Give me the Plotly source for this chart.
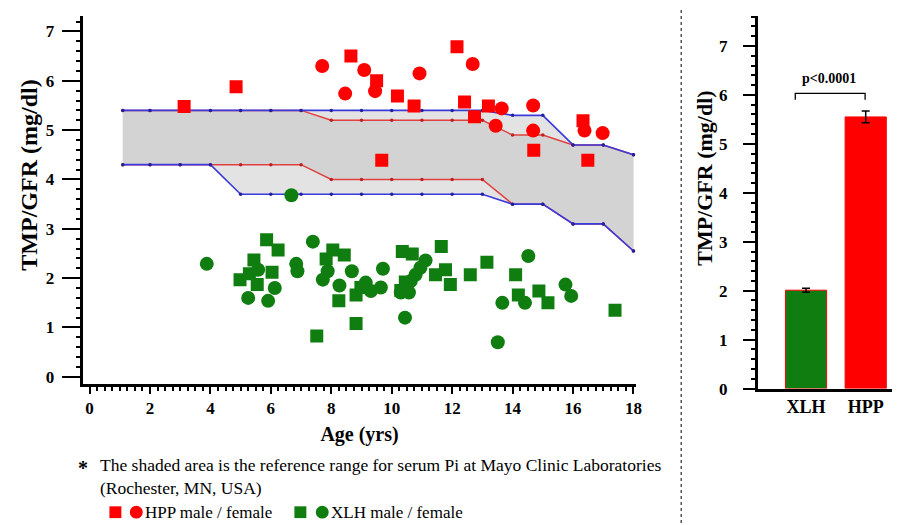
import plotly.graph_objects as go

# ---------------- data ----------------
# reference range (male = blue, female = red)
band_age = [1.1, 2, 3, 4, 5, 6, 7, 8, 9, 10, 11, 12, 13, 14, 15, 16, 17, 18]
male_upper = [5.4, 5.4, 5.4, 5.4, 5.4, 5.4, 5.4, 5.4, 5.4, 5.4, 5.4, 5.4, 5.4, 5.3, 5.3, 4.7, 4.7, 4.5]
male_lower = [4.3, 4.3, 4.3, 4.3, 3.7, 3.7, 3.7, 3.7, 3.7, 3.7, 3.7, 3.7, 3.7, 3.5, 3.5, 3.1, 3.1, 2.55]
female_upper = [5.4, 5.4, 5.4, 5.4, 5.4, 5.4, 5.4, 5.2, 5.2, 5.2, 5.2, 5.2, 5.2, 4.9, 4.9, 4.7, 4.7, 4.5]
female_lower = [4.3, 4.3, 4.3, 4.3, 4.3, 4.3, 4.3, 4.0, 4.0, 4.0, 4.0, 4.0, 4.0, 3.5, 3.5, 3.1, 3.1, 2.55]

hpp_male_age = [3.13, 4.85, 8.65, 9.5, 10.19, 10.74, 9.67, 12.16, 12.41, 12.74, 13.2, 14.70, 16.33, 16.49]
hpp_male_val = [5.48, 5.88, 6.50, 6.0, 5.69, 5.49, 4.39, 6.69, 5.57, 5.27, 5.49, 4.59, 5.19, 4.39]
hpp_female_age = [7.7, 8.46, 9.09, 9.45, 10.92, 12.68, 13.44, 13.64, 14.68, 14.68, 16.38, 16.98]
hpp_female_val = [6.30, 5.74, 6.22, 5.79, 6.15, 6.34, 5.09, 5.44, 5.50, 4.99, 4.99, 4.94]

xlh_male_age = [5.86, 6.24, 5.44, 4.98, 5.29, 5.55, 6.04, 7.52, 8.05, 8.43, 7.83, 8.25, 8.82, 8.82,
                8.98, 10.35, 10.68, 10.30, 10.45, 11.64, 11.45, 11.78, 11.94, 12.6, 13.15, 14.1,
                14.19, 14.87, 15.17, 17.39]
xlh_male_val = [2.78, 2.57, 2.37, 1.97, 2.09, 1.87, 2.12, 0.83, 2.57, 2.47, 2.39, 1.54, 1.66, 1.08,
                1.81, 2.54, 2.49, 1.75, 1.92, 2.64, 2.07, 2.17, 1.87, 2.07, 2.32, 2.07,
                1.66, 1.74, 1.50, 1.35]
xlh_female_age = [3.88, 5.58, 6.13, 5.25, 5.91, 6.84, 6.88, 7.39, 7.88, 7.72, 8.27, 8.68, 9.14, 9.31,
                  9.64, 9.71, 11.12, 10.95, 10.79, 10.63, 10.46, 10.30, 10.57, 10.44, 13.66, 13.51,
                  14.41, 14.52, 15.75, 15.94, 6.68]
xlh_female_val = [2.29, 2.17, 1.80, 1.60, 1.54, 2.29, 2.14, 2.74, 2.14, 1.97, 1.85, 2.14, 1.91, 1.74,
                  1.81, 2.19, 2.36, 2.21, 2.07, 1.94, 1.81, 1.71, 1.71, 1.20, 1.50, 0.70,
                  1.50, 2.45, 1.87, 1.64, 3.68]

bar_groups = ["XLH", "HPP"]
bar_means = [2.01, 5.55]
bar_err = [0.04, 0.12]
p_text = "p<0.0001"
x_ticks = list(range(0, 19, 2))
y_ticks = list(range(0, 8))

# ---------------- figure ----------------
RED = "#ff0000"
GREEN = "#0f7d0f"
BLUE = "#3b3bdc"
FONT = "Times New Roman, Liberation Serif, serif"

fig = go.Figure()

# fills
fig.add_trace(go.Scatter(x=band_age, y=male_lower, mode="lines", line=dict(width=0),
                         showlegend=False, hoverinfo="skip"))
fig.add_trace(go.Scatter(x=band_age, y=male_upper, mode="lines", line=dict(width=0),
                         fill="tonexty", fillcolor="#e3e3e3", showlegend=False, hoverinfo="skip"))
fig.add_trace(go.Scatter(x=band_age, y=female_lower, mode="lines", line=dict(width=0),
                         showlegend=False, hoverinfo="skip"))
fig.add_trace(go.Scatter(x=band_age, y=female_upper, mode="lines", line=dict(width=0),
                         fill="tonexty", fillcolor="#d3d3d3", showlegend=False, hoverinfo="skip"))

# lines (female red below, male blue on top)
for ys in (female_upper, female_lower):
    fig.add_trace(go.Scatter(x=band_age, y=ys, mode="lines+markers",
                             line=dict(color="#e04040", width=1.5),
                             marker=dict(size=3.5, color="#c02020"), showlegend=False))
for ys in (male_upper, male_lower):
    fig.add_trace(go.Scatter(x=band_age, y=ys, mode="lines+markers",
                             line=dict(color=BLUE, width=1.6),
                             marker=dict(size=3.5, color="#2020a0"), showlegend=False))

# patients
fig.add_trace(go.Scatter(x=hpp_male_age, y=hpp_male_val, mode="markers", name="HPP male",
                         marker=dict(symbol="square", size=13, color=RED), showlegend=False))
fig.add_trace(go.Scatter(x=hpp_female_age, y=hpp_female_val, mode="markers", name="HPP female",
                         marker=dict(symbol="circle", size=14, color=RED), showlegend=False))
fig.add_trace(go.Scatter(x=xlh_male_age, y=xlh_male_val, mode="markers", name="XLH male",
                         marker=dict(symbol="square", size=13, color=GREEN), showlegend=False))
fig.add_trace(go.Scatter(x=xlh_female_age, y=xlh_female_val, mode="markers", name="XLH female",
                         marker=dict(symbol="circle", size=14, color=GREEN), showlegend=False))

# bar chart
fig.add_trace(go.Bar(x=[0, 1], y=bar_means, width=0.69,
                     marker=dict(color=[GREEN, RED], line=dict(color=RED, width=1)),
                     error_y=dict(type="data", array=bar_err, color="black", thickness=1.5, width=4),
                     xaxis="x2", yaxis="y2", showlegend=False))

W, H = 900, 525
def px(x):
    return x / W
def py(y):
    return 1 - y / H

tickfont = dict(family=FONT, size=17, color="black")
axis_common = dict(showline=True, linecolor="black", linewidth=3, ticks="outside",
                   tickcolor="black", tickwidth=2, showgrid=False, zeroline=False,
                   tickfont=tickfont)
minor_y = dict(dtick=0.2, tick0=0, ticklen=4, tickwidth=1.5, tickcolor="black", ticks="outside")

fig.update_layout(
    width=W, height=H,
    margin=dict(l=0, r=0, t=0, b=0),
    paper_bgcolor="white", plot_bgcolor="white",
    font=dict(family=FONT, color="black"),
    xaxis=dict(domain=[px(75), px(632)], range=[-0.23, 18.1], tickvals=x_ticks,
               ticktext=["<b>%d</b>" % v for v in x_ticks],
               ticklen=7, minor=dict(dtick=0.25, tick0=0, ticklen=4, tickwidth=1.5, tickcolor="black", ticks="outside"),
               title=dict(text="<b>Age (yrs)</b>", font=dict(family=FONT, size=20), standoff=10),
               anchor="y", **axis_common),
    yaxis=dict(domain=[py(383), py(8)], range=[-0.139, 7.316], tickvals=y_ticks,
               ticktext=["<b>%d</b>" % v for v in y_ticks],
               ticklen=18, ticklabelstandoff=4, minor=minor_y, anchor="x", **axis_common),
    xaxis2=dict(domain=[px(754), px(897)], range=[-0.808, 1.575], tickvals=[0, 1],
                ticktext=["<b>%s</b>" % g for g in bar_groups],
                ticks="", showline=True, linecolor="black", linewidth=3, showgrid=False,
                zeroline=False, tickfont=dict(family=FONT, size=18, color="black"),
                anchor="y2"),
    yaxis2=dict(domain=[py(388), py(8)], range=[0, 7.615], tickvals=y_ticks,
                ticktext=["<b>%d</b>" % v for v in y_ticks],
                ticklen=12, ticklabelstandoff=12, minor=minor_y, anchor="x2", **axis_common),
)

# y titles
fig.add_annotation(text="<b>TMP/GFR (mg/dl)</b>", textangle=-90, xref="paper", yref="paper",
                   x=px(21), y=py(170), xanchor="center", yanchor="middle",
                   showarrow=False, font=dict(family=FONT, size=24))
fig.add_annotation(text="<b>TMP/GFR (mg/dl)</b>", textangle=-90, xref="paper", yref="paper",
                   x=px(701), y=py(174), xanchor="center", yanchor="middle",
                   showarrow=False, font=dict(family=FONT, size=22))

# significance bracket
fig.add_shape(type="path", xref="x2", yref="y2",
              path="M -0.18 5.9 L -0.18 6.03 L 0.99 6.03 L 0.99 5.9",
              line=dict(color="black", width=1.3))
fig.add_annotation(text="<b>%s</b>" % p_text, xref="x2", yref="y2", x=0.39, y=6.34,
                   showarrow=False, font=dict(family=FONT, size=14))

# dotted separator
fig.add_shape(type="line", xref="paper", yref="paper", x0=px(677), x1=px(677), y0=0, y1=1,
              line=dict(color="#555555", width=1.5, dash="dot"))

# footnote
fig.add_annotation(text="<b>*</b>", xref="paper", yref="paper", x=px(75), y=py(469),
                   xanchor="center", yanchor="middle", showarrow=False,
                   font=dict(family=FONT, size=20))
fig.add_annotation(text="The shaded area is the reference range for serum Pi at Mayo Clinic Laboratories",
                   xref="paper", yref="paper", x=px(91), y=py(466), xanchor="left", yanchor="middle",
                   showarrow=False, font=dict(family=FONT, size=17.5))
fig.add_annotation(text="(Rochester, MN, USA)",
                   xref="paper", yref="paper", x=px(91), y=py(489), xanchor="left", yanchor="middle",
                   showarrow=False, font=dict(family=FONT, size=17.5))

# legend keys
legend_rows = [(RED, 108, 129, 136, "HPP male / female"), (GREEN, 294, 316, 323, "XLH male / female")]
for col, xs, xc, xt, label in legend_rows:
    fig.add_shape(type="rect", xref="paper", yref="paper",
                  x0=px(xs - 6), x1=px(xs + 6), y0=py(520), y1=py(508),
                  fillcolor=col, line=dict(width=0))
    fig.add_shape(type="circle", xref="paper", yref="paper",
                  x0=px(xc - 6.5), x1=px(xc + 6.5), y0=py(520.5), y1=py(507.5),
                  fillcolor=col, line=dict(width=0))
    fig.add_annotation(text=label, xref="paper", yref="paper", x=px(xt), y=py(514),
                       xanchor="left", yanchor="middle", showarrow=False,
                       font=dict(family=FONT, size=17))

fig.write_html("out.html")
